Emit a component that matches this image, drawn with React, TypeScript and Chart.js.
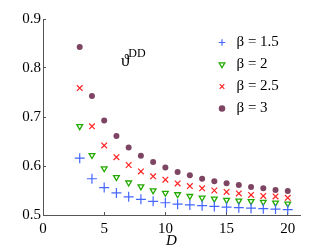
import React, { useEffect, useRef } from "react";
import { Chart, registerables } from "chart.js";

Chart.register(...registerables);

// ---- data ----
const D = [3, 4, 5, 6, 7, 8, 9, 10, 11, 12, 13, 14, 15, 16, 17, 18, 19, 20];
const seriesLabels = ["β = 1.5", "β = 2", "β = 2.5", "β = 3"];
const beta15 = [0.616, 0.574, 0.556, 0.545, 0.537, 0.532, 0.528, 0.525, 0.522, 0.5205, 0.519, 0.5175, 0.516, 0.515, 0.514, 0.513, 0.512, 0.511];
const beta2 = [0.681, 0.622, 0.595, 0.577, 0.566, 0.558, 0.55, 0.545, 0.542, 0.5385, 0.535, 0.533, 0.5305, 0.529, 0.528, 0.5265, 0.525, 0.523];
const beta25 = [0.759, 0.681, 0.642, 0.618, 0.602, 0.589, 0.579, 0.572, 0.5645, 0.559, 0.5545, 0.55, 0.547, 0.544, 0.541, 0.539, 0.538, 0.535];
const beta3 = [0.843, 0.743, 0.693, 0.661, 0.638, 0.621, 0.608, 0.597, 0.588, 0.581, 0.574, 0.569, 0.565, 0.561, 0.557, 0.5545, 0.551, 0.549];
const xTicks = [0, 5, 10, 15, 20];
const yTicks = [0.5, 0.6, 0.7, 0.8, 0.9];
const xTitle = "D";
const annotMain = "ϑ";
const annotSup = "DD";

const FONT = "'Liberation Serif', 'Times New Roman', serif";

const toPts = (vals: number[]) => vals.map((v, i) => ({ x: D[i], y: v }));

const annotationPlugin = {
  id: "annot",
  afterDatasetsDraw(chart: any) {
    const { ctx, scales } = chart;
    const px = scales.x.getPixelForValue(6.37);
    const py = scales.y.getPixelForValue(0.804);
    ctx.save();
    ctx.fillStyle = "#000";
    ctx.textBaseline = "alphabetic";
    ctx.font = `17px ${FONT}`;
    ctx.fillText(annotMain, px, py);
    const w = ctx.measureText(annotMain).width;
    ctx.font = `12px ${FONT}`;
    ctx.fillText(annotSup, px + w - 1, py - 9);
    ctx.restore();
  },
};

const legendPlacer = {
  id: "legendPlacer",
  afterLayout(chart: any) {
    const lg = chart.legend;
    if (!lg) return;
    const w = lg.width;
    const h = lg.height;
    lg.left = 208;
    lg.top = 28;
    lg.right = lg.left + w;
    lg.bottom = lg.top + h;
  },
};

export default function App() {
  const ref = useRef<HTMLCanvasElement | null>(null);

  useEffect(() => {
    document.body.style.margin = "0";
    const canvas = ref.current;
    if (!canvas) return;
    const chart = new Chart(canvas, {
      type: "scatter",
      data: {
        datasets: [
          {
            label: seriesLabels[0],
            data: toPts(beta15),
            pointStyle: "cross",
            pointRadius: 5,
            borderColor: "#4466ff",
            backgroundColor: "#4466ff",
            pointBorderWidth: 1.2,
            borderWidth: 1.2,
          },
          {
            label: seriesLabels[1],
            data: toPts(beta2),
            pointStyle: "triangle",
            pointRotation: 180,
            pointRadius: 3.3,
            borderColor: "#22aa00",
            backgroundColor: "rgba(0,0,0,0)",
            pointBorderWidth: 1.3,
            borderWidth: 1.3,
          },
          {
            label: seriesLabels[2],
            data: toPts(beta25),
            pointStyle: "crossRot",
            pointRadius: 4,
            borderColor: "#ff2222",
            backgroundColor: "#ff2222",
            pointBorderWidth: 1.2,
            borderWidth: 1.2,
          },
          {
            label: seriesLabels[3],
            data: toPts(beta3),
            pointStyle: "circle",
            pointRadius: 3,
            borderColor: "#7d4562",
            backgroundColor: "#7d4562",
            pointBorderWidth: 0,
            borderWidth: 0,
          },
        ],
      },
      options: {
        animation: false,
        responsive: false,
        maintainAspectRatio: false,
        layout: { padding: { top: 19, right: 32, left: 0, bottom: 0 } },
        plugins: {
          tooltip: { enabled: false },
          legend: {
            display: true,
            position: "chartArea",
            align: "start",
            labels: {
              usePointStyle: true,
              boxWidth: 14,
              boxHeight: 4.6,
              padding: 7,
              color: "#000",
              font: { family: FONT, size: 15 },
            },
          },
        },
        scales: {
          x: {
            type: "linear",
            min: 0,
            max: 21,
            afterBuildTicks: (s: any) => {
              s.ticks = xTicks.map((v) => ({ value: v }));
            },
            afterFit: (s: any) => {
              s.height = 35;
            },
            ticks: {
              color: "#000",
              font: { family: FONT, size: 15 },
              padding: 8,
              maxRotation: 0,
              autoSkip: false,
            },
            grid: { drawOnChartArea: false, drawTicks: true, tickLength: -3, color: "#555" },
            border: { display: true, color: "#555", width: 1 },
            title: {
              display: true,
              text: xTitle,
              color: "#000",
              font: { family: FONT, size: 15, style: "italic" },
              padding: { top: 0, bottom: 0 },
            },
          },
          y: {
            type: "linear",
            min: 0.5,
            max: 0.9,
            afterBuildTicks: (s: any) => {
              s.ticks = yTicks.map((v) => ({ value: v }));
            },
            afterFit: (s: any) => {
              s.width = 43;
            },
            ticks: {
              color: "#000",
              font: { family: FONT, size: 15 },
              padding: 5,
              autoSkip: false,
              callback: (v: any) => Number(v).toFixed(1),
            },
            grid: { drawOnChartArea: false, drawTicks: true, tickLength: -3, color: "#555" },
            border: { display: true, color: "#555", width: 1 },
          },
        },
      },
      plugins: [annotationPlugin, legendPlacer],
    } as any);
    return () => chart.destroy();
  }, []);

  return (
    <div style={{ width: 332, height: 250 }}>
      <canvas ref={ref} width={332} height={250} style={{ display: "block", width: 332, height: 250 }} />
    </div>
  );
}
